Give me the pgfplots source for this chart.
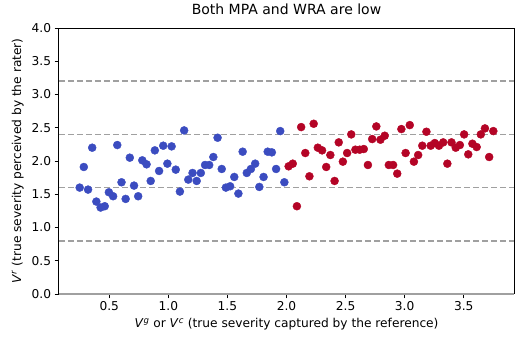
\documentclass[border=0pt]{standalone}
\usepackage{pgfplots}
\usepackage{fontspec}
\setmainfont{DejaVu Sans}
\pgfplotsset{compat=1.18}
\definecolor{cwblue}{HTML}{3B4CC0}
\definecolor{cwred}{HTML}{B40426}
\definecolor{refgray}{HTML}{A0A0A0}

% V^g / V^c -> V^r
\pgfplotstableread{
x y
0.250 1.60
0.285 1.91
0.321 1.57
0.356 2.20
0.391 1.39
0.427 1.30
0.462 1.32
0.497 1.53
0.533 1.47
0.568 2.24
0.604 1.68
0.639 1.43
0.674 2.05
0.710 1.63
0.745 1.47
0.780 2.01
0.816 1.95
0.851 1.70
0.886 2.16
0.922 1.85
0.957 2.23
0.992 1.96
1.028 2.22
1.063 1.87
1.098 1.54
1.134 2.46
1.169 1.72
1.205 1.82
1.240 1.70
1.275 1.82
1.311 1.94
1.346 1.94
1.381 2.06
1.417 2.35
1.452 1.88
1.487 1.60
1.523 1.62
1.558 1.76
1.593 1.51
1.629 2.14
1.664 1.82
1.699 1.88
1.735 1.96
1.770 1.61
1.806 1.76
1.841 2.14
1.876 2.13
1.912 1.88
1.947 2.45
1.982 1.68
}\lowtable

\pgfplotstableread{
x y
2.018 1.92
2.053 1.96
2.088 1.32
2.124 2.51
2.159 2.12
2.194 1.77
2.230 2.56
2.265 2.20
2.301 2.16
2.336 1.91
2.371 2.09
2.407 1.70
2.442 2.28
2.477 1.99
2.513 2.12
2.548 2.40
2.583 2.17
2.619 2.17
2.654 2.18
2.689 1.94
2.725 2.33
2.760 2.52
2.795 2.32
2.831 2.38
2.866 1.94
2.902 1.94
2.937 1.81
2.972 2.48
3.008 2.12
3.043 2.54
3.078 1.99
3.114 2.09
3.149 2.23
3.184 2.44
3.220 2.23
3.255 2.27
3.290 2.23
3.326 2.28
3.361 1.96
3.396 2.28
3.432 2.20
3.467 2.24
3.503 2.40
3.538 2.10
3.573 2.26
3.609 2.21
3.644 2.40
3.679 2.49
3.715 2.06
3.750 2.45
}\hightable

\begin{document}
\begin{tikzpicture}
\begin{axis}[
  scale only axis,
  width=455pt,
  height=266pt,
  xmin=0.075, xmax=3.925,
  ymin=0, ymax=4,
  xtick={0.5,1.0,...,3.5},
  ytick={0,0.5,...,4},
  xticklabel style={/pgf/number format/.cd,fixed,fixed zerofill,precision=1},
  yticklabel style={/pgf/number format/.cd,fixed,fixed zerofill,precision=1},
  /pgf/number format/assume math mode=true,
  tick label style={font=\fontsize{12.2}{14}\selectfont},
  tick align=outside,
  xtick pos=bottom,
  ytick pos=left,
  major tick length=4.4pt,
  tick style={black, line width=0.8pt},
  axis line style={black, line width=1pt},
  title={Both MPA and WRA are low},
  title style={font=\fontsize{14}{16}\selectfont, at={(axis description cs:0.5,1)}, anchor=base, yshift=8pt},
  xlabel={\textit{V}\textsuperscript{\textit{g}} or \textit{V}\textsuperscript{\textit{c}} (true severity captured by the reference)},
  xlabel style={font=\fontsize{12.2}{14}\selectfont, at={(axis description cs:0.5,0)}, anchor=base, yshift=-34pt},
  ylabel={\textit{V}\textsuperscript{\textit{r}} (true severity perceived by the rater)},
  ylabel style={font=\fontsize{12.2}{14}\selectfont, at={(axis description cs:-0.0835,0.5)}, anchor=base},
  clip=false,
]
\addplot[refgray, line width=1.6pt, dash pattern=on 6pt off 3pt, forget plot] coordinates {(0.075,0.8) (3.925,0.8)};
\addplot[refgray, line width=1.6pt, dash pattern=on 6pt off 3pt, forget plot] coordinates {(0.075,1.6) (3.925,1.6)};
\addplot[refgray, line width=1.6pt, dash pattern=on 6pt off 3pt, forget plot] coordinates {(0.075,2.4) (3.925,2.4)};
\addplot[refgray, line width=1.6pt, dash pattern=on 6pt off 3pt, forget plot] coordinates {(0.075,3.2) (3.925,3.2)};
\addplot[refgray, line width=2pt, forget plot] coordinates {(0.075,0) (3.925,0)};
\addplot[cwblue, only marks, mark=*, mark size=4pt, mark options={solid, draw=cwblue, fill=cwblue, line width=0.4pt}] table[x=x, y=y] {\lowtable};
\addplot[cwred, only marks, mark=*, mark size=4pt, mark options={solid, draw=cwred, fill=cwred, line width=0.4pt}] table[x=x, y=y] {\hightable};
\end{axis}
\pgfresetboundingbox
\path (-59pt,-49pt) rectangle (464pt,294pt);
\end{tikzpicture}
\end{document}
